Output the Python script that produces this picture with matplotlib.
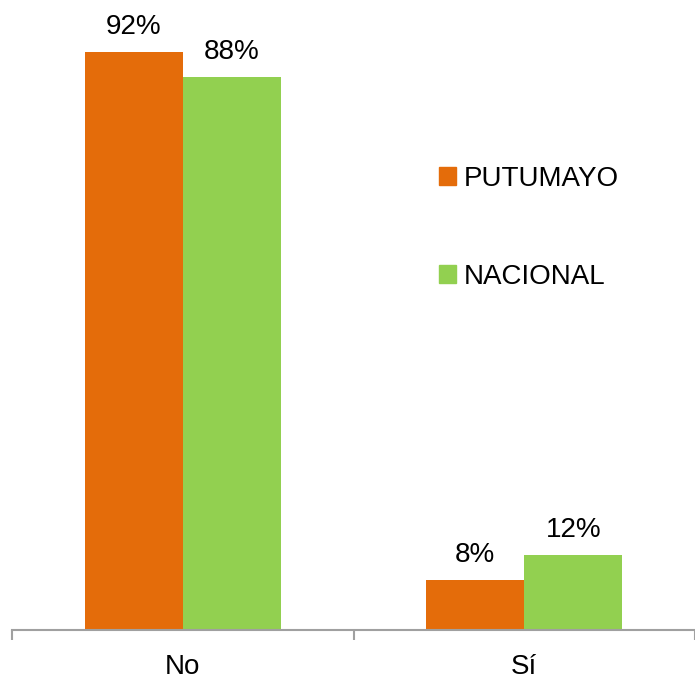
import matplotlib
matplotlib.use("Agg")
import matplotlib.pyplot as plt
from matplotlib.patches import Patch

categories = ["No", "Sí"]
series_names = ["PUTUMAYO", "NACIONAL"]
putumayo = [92, 8]
nacional = [88, 12]
colors = ["#E46C0A", "#92D050"]

plt.rcParams['font.family'] = ['Liberation Sans', 'DejaVu Sans']
fs = 20

W, H = 695, 684
fig = plt.figure(figsize=(W / 100, H / 100), dpi=100)
ax = fig.add_axes([12 / W, 1 - 630 / H, (695 - 12) / W, 628 / H])

x = list(range(len(categories)))
bw = 0.287
off = 0.1435
b1 = ax.bar([i - off for i in x], putumayo, width=bw, color=colors[0], label=series_names[0])
b2 = ax.bar([i + off for i in x], nacional, width=bw, color=colors[1], label=series_names[1])

for bars, vals in ((b1, putumayo), (b2, nacional)):
    for r, v in zip(bars, vals):
        ax.annotate(f"{v}%", (r.get_x() + r.get_width() / 2, v), xytext=(0, 13),
                    textcoords="offset points", ha="center", va="baseline", fontsize=fs)

ax.set_xlim(-0.5, 1.48)
ax.set_ylim(0, 100)
ax.set_yticks([])
for s in ("top", "right", "left"):
    ax.spines[s].set_visible(False)
ax.spines["bottom"].set_color("#A0A0A0")
ax.spines["bottom"].set_linewidth(1.5)
ax.set_xticks(x)
ax.set_xticklabels(categories, fontsize=fs)
ax.tick_params(axis="x", which="major", length=0, pad=17.5)
ax.set_xticks([-0.5, 0.5, 1.5], minor=True)
ax.tick_params(axis="x", which="minor", length=7, width=1.5, color="#A0A0A0")

handles = [Patch(color=c) for c in colors]
leg = ax.legend(handles, series_names, loc="upper left",
                bbox_to_anchor=(439 / W, 1 - 166 / H), bbox_transform=fig.transFigure,
                frameon=False, fontsize=fs, handlelength=0.61, handleheight=0.61,
                handletextpad=0.29, labelspacing=2.58, borderpad=0, borderaxespad=0)

fig.savefig("out.png", dpi=100)
